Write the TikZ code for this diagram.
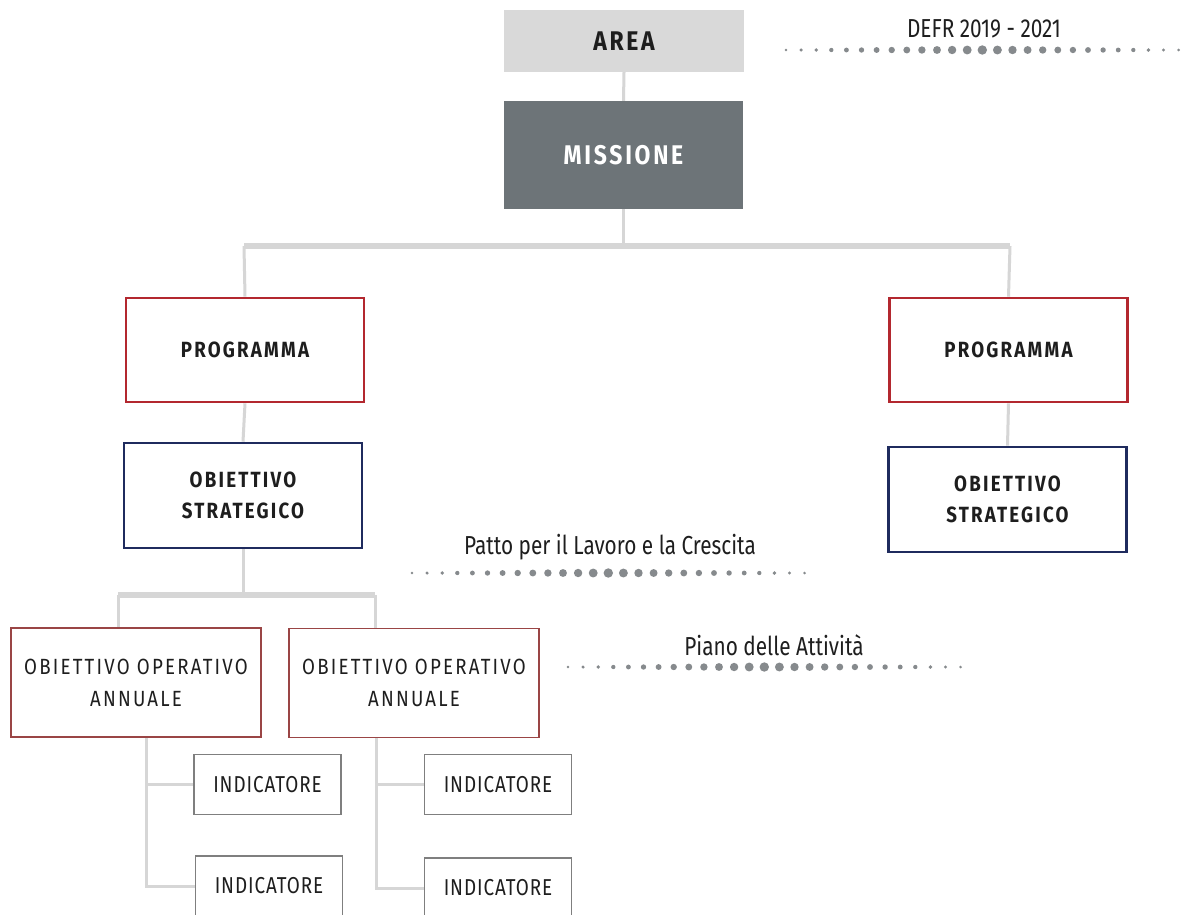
\documentclass[tikz,border=0pt]{standalone}
\usepackage{fontspec}
\setmainfont{Fira Sans}[FakeStretch=0.8]
\newfontfamily\trk{Fira Sans}[FakeStretch=0.85,LetterSpace=10]
\newfontfamily\trks{Fira Sans}[FakeStretch=0.82,LetterSpace=4]
\definecolor{linegray}{HTML}{D6D6D6}
\definecolor{areafill}{HTML}{D9D9D9}
\definecolor{missfill}{HTML}{6D7478}
\definecolor{progred}{HTML}{B3282F}
\definecolor{navy}{HTML}{1F2B5E}
\definecolor{opred}{HTML}{9A4545}
\definecolor{indgray}{HTML}{7F7F7F}
\definecolor{dotc}{HTML}{868A8D}
\definecolor{txt}{HTML}{1E1E1E}
\begin{document}
\begin{tikzpicture}[x=1pt,y=-1pt,
  conn/.style={draw=linegray, line width=3pt},
  barline/.style={draw=linegray, line width=5.5pt},
  boxbase/.style={rectangle, inner sep=0pt, align=center, text=txt},
  areabox/.style={boxbase, fill=areafill, minimum width=240pt, minimum height=62pt,
     font=\trk\bfseries\fontsize{27}{27}\selectfont},
  missbox/.style={boxbase, fill=missfill, text=white, minimum width=239pt, minimum height=108pt,
     font=\trk\bfseries\fontsize{27}{27}\selectfont},
  progbox/.style={boxbase, draw=progred, line width=2.6pt, minimum width=238pt, minimum height=104pt,
     font=\trk\bfseries\fontsize{22}{22}\selectfont},
  stratbox/.style={boxbase, draw=navy, line width=2.6pt, minimum width=238pt, minimum height=105pt,
     font=\trk\bfseries\fontsize{22}{31}\selectfont},
  opbox/.style={boxbase, draw=opred, line width=1.8pt, minimum width=250pt, minimum height=109pt,
     font=\trk\fontsize{22}{32}\selectfont},
  indbox/.style={boxbase, draw=indgray, line width=1.8pt, minimum width=147pt, minimum height=60pt,
     font=\trks\fontsize{23}{23}\selectfont},
  lbl/.style={inner sep=0pt, text=txt, font=\fontsize{26}{26}\selectfont}
]
\useasboundingbox (0,0) rectangle (1181,914);
\fill[white] (0,0) rectangle (1181,914);

% coordinates for bars
\coordinate (barA) at (244,246);
\coordinate (barB) at (1010,246);
\coordinate (barC) at (118,595);
\coordinate (barD) at (375,595);
\coordinate (tL) at (146,738);
\coordinate (tR) at (376,738);

% nodes
\node[areabox] (area) at (624,41) {AREA};
\node[missbox] (miss) at (623.5,155) {MISSIONE};
\node[progbox] (progL) at (245,350) {PROGRAMMA};
\node[progbox] (progR) at (1008.5,350) {PROGRAMMA};
\node[stratbox] (strL) at (243,495.5) {OBIETTIVO\\STRATEGICO};
\node[stratbox] (strR) at (1007.5,499.5) {OBIETTIVO\\STRATEGICO};
\node[opbox] (opL) at (136,682.5) {OBIETTIVO OPERATIVO\\ANNUALE};
\node[opbox] (opR) at (414,683) {OBIETTIVO OPERATIVO\\ANNUALE};
\node[indbox] (indL1) at (267.5,784.5) {INDICATORE};
\node[indbox] (indL2) at (269,886) {INDICATORE};
\node[indbox] (indR1) at (498,784.5) {INDICATORE};
\node[indbox] (indR2) at (498,888) {INDICATORE};

% connectors
\draw[conn] (area.south) -- (miss.north);
\draw[conn] (miss.south) -- (miss.south |- barA);
\draw[barline] (barA) -- (barB);
\draw[conn] (barA) -- (progL.north);
\draw[conn] (barB) -- (progR.north);
\draw[conn] (progL.south) -- (strL.north);
\draw[conn] (progR.south) -- (strR.north);
\draw[conn] (strL.south) -- (strL.south |- barC);
\draw[barline] (barC) -- (barD);
\draw[conn] (barC) -- (barC |- opL.north);
\draw[conn] (barD) -- (barD |- opR.north);
\draw[conn] (tL) |- (indL2.west);
\draw[conn] (tL |- indL1.west) -- (indL1.west);
\draw[conn] (tR) |- (indR2.west);
\draw[conn] (tR |- indR1.west) -- (indR1.west);

% dotted rows
\foreach \xo/\yo in {786/50, 412/573, 568/667}{
  \foreach \i in {0,...,26}{
    \pgfmathsetmacro\rr{1.4+3.3*(1-abs(\i-13)/13)}
    \fill[dotc] (\xo+\i*15.1,\yo) circle[radius=\rr pt];
  }
}
\node[lbl] (defr) at (984,29) {DEFR 2019 - 2021};
\node[lbl] (patto) at (610,547) {Patto per il Lavoro e la Crescita};
\node[lbl] (piano) at (774,645) {Piano delle Attività};
\end{tikzpicture}
\end{document}
